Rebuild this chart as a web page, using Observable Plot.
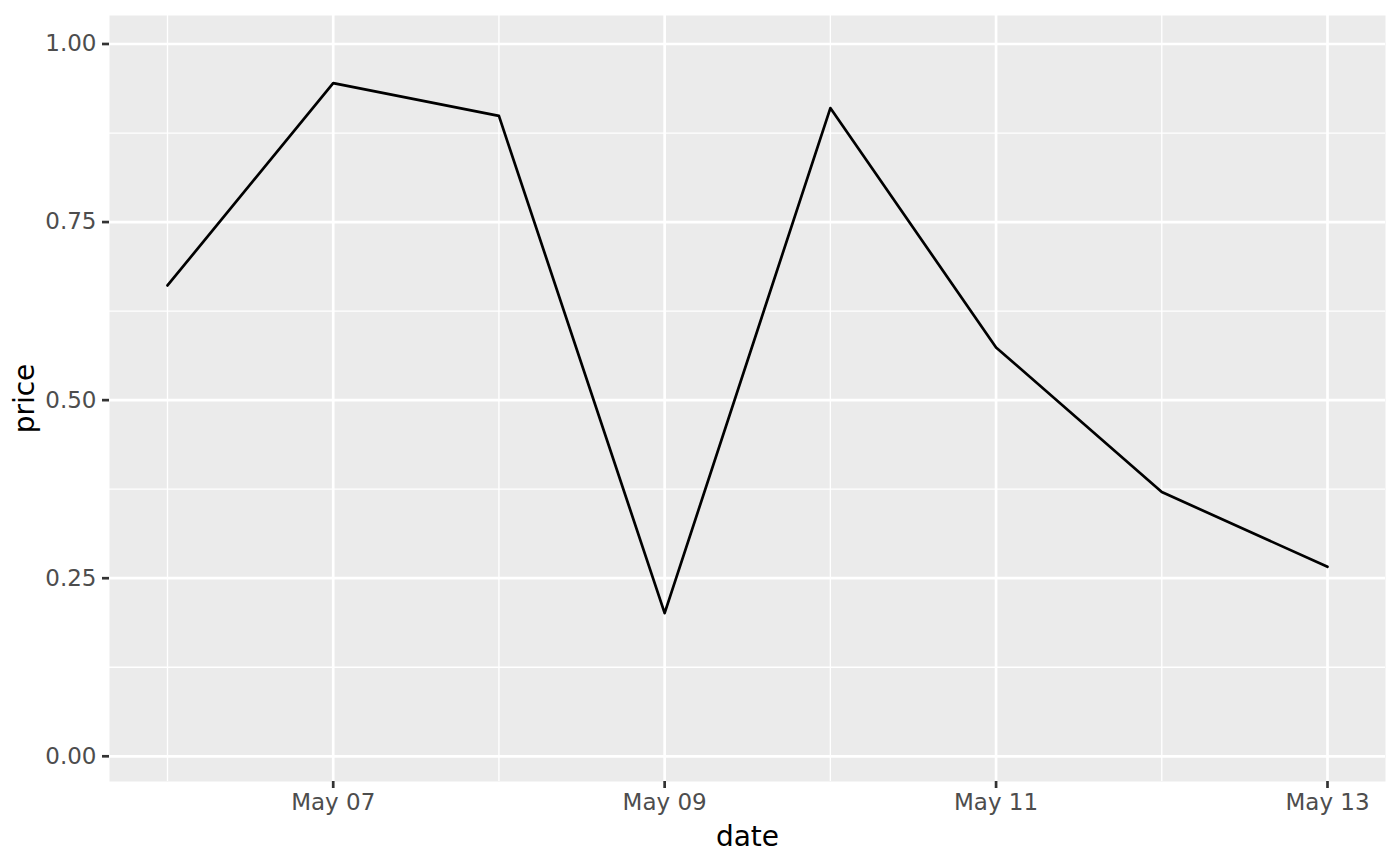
<!DOCTYPE html>
<html>
<head>
<meta charset="utf-8">
<script src="https://cdn.jsdelivr.net/npm/d3@7"></script>
<script src="https://cdn.jsdelivr.net/npm/@observablehq/plot@0.6"></script>
<style>
  body { margin: 0; background: white; }
  #chart svg { display: block; }
</style>
</head>
<body>
<div id="chart"></div>
<script>
// datos
const dates = ["2023-05-06", "2023-05-07", "2023-05-08", "2023-05-09", "2023-05-10", "2023-05-11", "2023-05-12", "2023-05-13"];
const prices = [0.661, 0.945, 0.899, 0.201, 0.910, 0.574, 0.371, 0.266];
const yMajor = [0, 0.25, 0.5, 0.75, 1];
const yMinor = [0.125, 0.375, 0.625, 0.875];
const xMajor = ["2023-05-07", "2023-05-09", "2023-05-11", "2023-05-13"];
const xMinor = ["2023-05-06", "2023-05-08", "2023-05-10", "2023-05-12"];

const parse = d3.utcParse("%Y-%m-%d");
const data = dates.map((d, i) => ({ date: parse(d), price: prices[i] }));
const day = 864e5;
const x0 = parse(dates[0]), x1 = parse(dates[dates.length - 1]);

const chart = Plot.plot({
  width: 1400,
  height: 866,
  marginLeft: 109,
  marginRight: 15,
  marginTop: 15,
  marginBottom: 85,
  x: {
    type: "utc",
    domain: [new Date(+x0 - 0.35 * day), new Date(+x1 + 0.35 * day)]
  },
  y: { domain: [-0.0354, 1.040] },
  style: { fontFamily: "DejaVu Sans", background: "white" },
  marks: [
    Plot.frame({ fill: "#EBEBEB", stroke: null }),
    Plot.ruleY(yMinor, { stroke: "white", strokeWidth: 1.3 }),
    Plot.ruleX(xMinor.map(parse), { stroke: "white", strokeWidth: 1.3 }),
    Plot.ruleY(yMajor, { stroke: "white", strokeWidth: 2.7 }),
    Plot.ruleX(xMajor.map(parse), { stroke: "white", strokeWidth: 2.7 }),
    Plot.line(data, { x: "date", y: "price", stroke: "black", strokeWidth: 2.7 }),
    Plot.axisX({
      ticks: xMajor.map(parse),
      tickFormat: d3.utcFormat("%b %d"),
      tickSize: 7,
      tickPadding: 5,
      stroke: "#333333",
      strokeWidth: 2.7,
      color: "#4D4D4D",
      fontSize: 23,
      label: null
    }),
    Plot.axisY({
      ticks: yMajor,
      tickFormat: d3.format(".2f"),
      tickSize: 7,
      tickPadding: 6,
      stroke: "#333333",
      strokeWidth: 2.7,
      color: "#4D4D4D",
      fontSize: 23,
      label: null
    }),
    Plot.text(["date"], { frameAnchor: "bottom", dy: 64, fontSize: 28, fill: "black" }),
    Plot.text(["price"], { frameAnchor: "left", textAnchor: "middle", dx: -84, rotate: -90, fontSize: 28, fill: "black" })
  ]
});

d3.select("#chart").append(() => chart);
</script>
</body>
</html>
